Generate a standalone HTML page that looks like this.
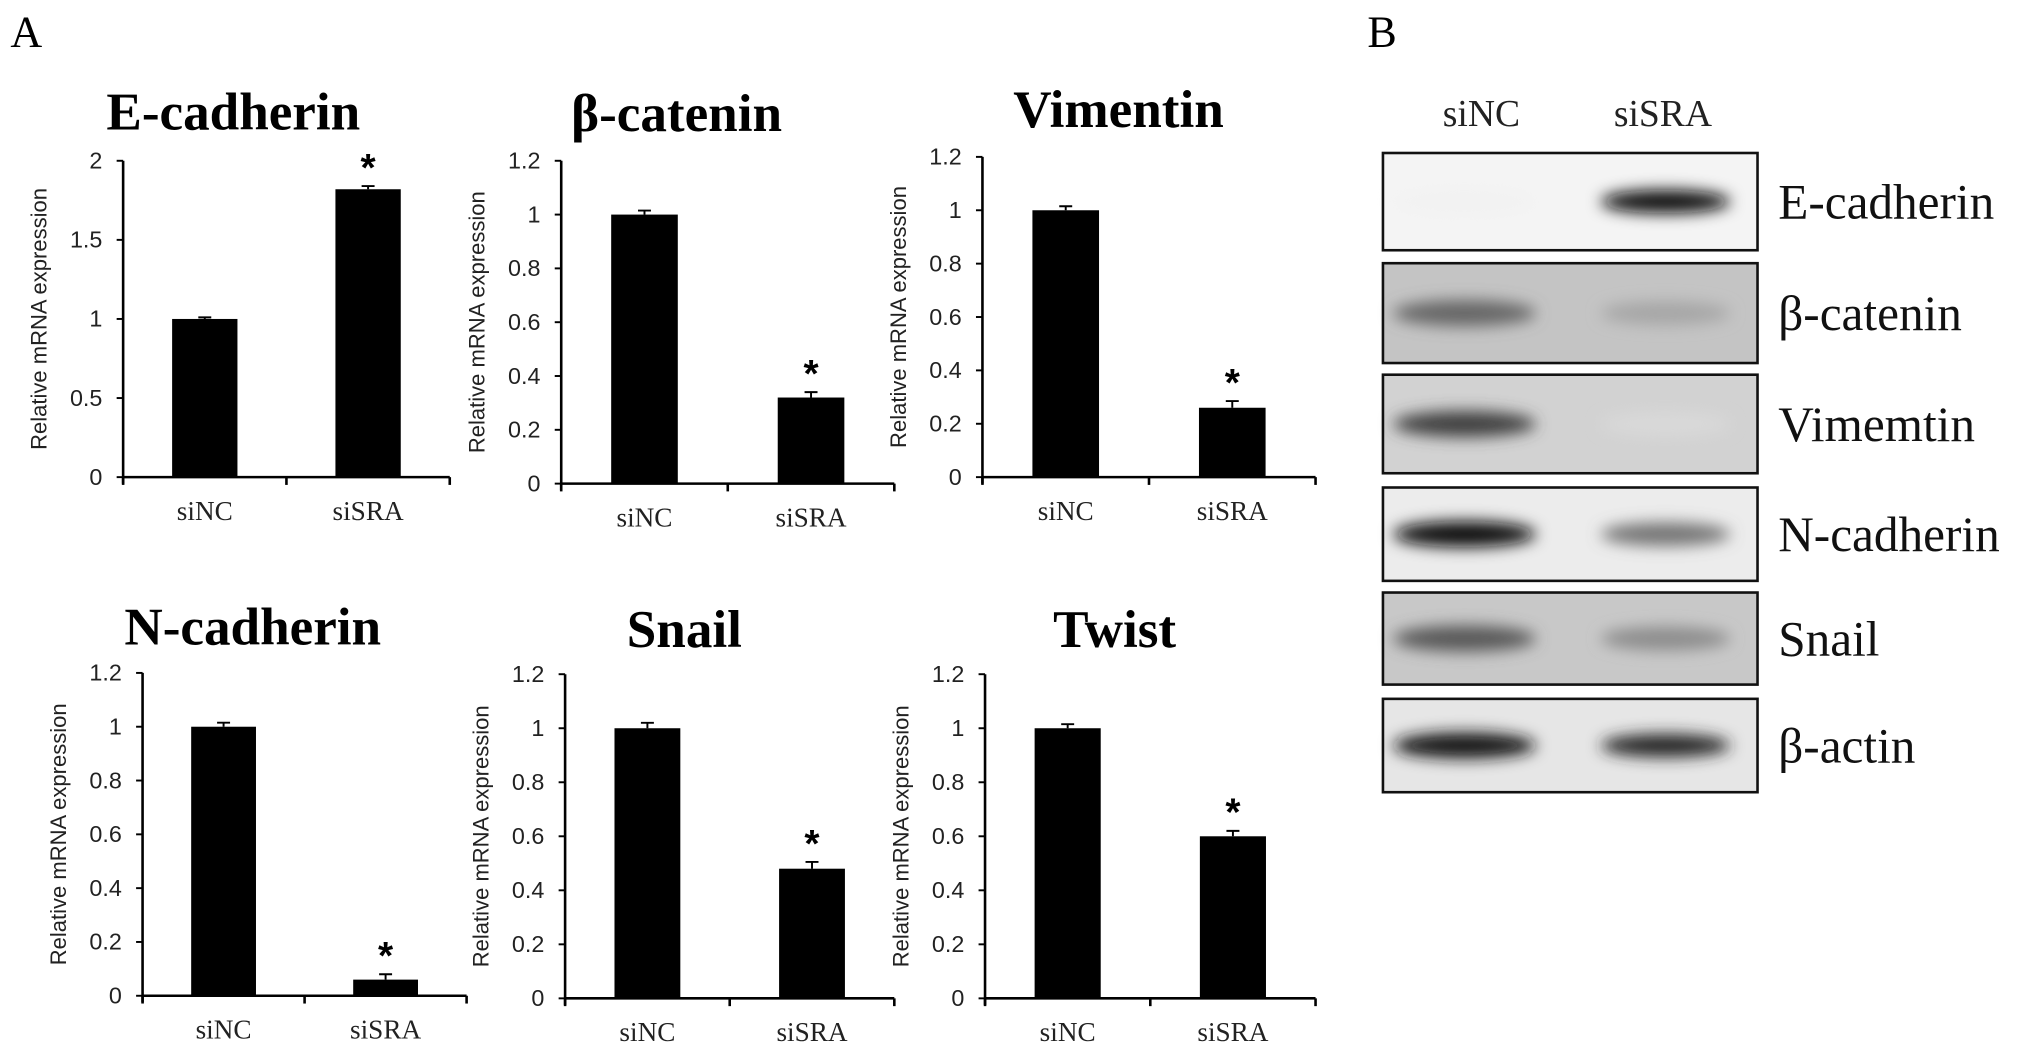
<!DOCTYPE html>
<html><head><meta charset="utf-8"><style>
html,body{margin:0;padding:0;background:#fff;}
svg{display:block;}
</style></head><body>
<svg id="fig" width="2031" height="1058" viewBox="0 0 1567 816" preserveAspectRatio="none" xmlns="http://www.w3.org/2000/svg">
<defs>
<filter id="bl" x="-50%" y="-100%" width="200%" height="300%"><feGaussianBlur stdDeviation="6"/></filter>
</defs>
<text x="8" y="36" font-family="Liberation Serif, serif" font-size="34">A</text>
<text x="1055" y="36" font-family="Liberation Serif, serif" font-size="34">B</text>
<g id="charts"></g>
<g id="blot"></g>
</svg>
<script>
const NS="http://www.w3.org/2000/svg";
const categories=["siNC","siSRA"];
const titles=["E-cadherin","β-catenin","Vimentin","N-cadherin","Snail","Twist"];
const valuesNC=[1,1,1,1,1,1];
const valuesSRA=[1.82,0.32,0.26,0.06,0.48,0.60];
const errNC=[0.01,0.015,0.015,0.015,0.02,0.015];
const errSRA=[0.02,0.02,0.025,0.02,0.025,0.02];
const yMaxes=[2,1.2,1.2,1.2,1.2,1.2];
const tickStep=[0.5,0.2,0.2,0.2,0.2,0.2];
const tickLabelsA=["0","0.5","1","1.5","2"];
const tickLabelsB=["0","0.2","0.4","0.6","0.8","1","1.2"];
const L=[
 {ax:95,y0:368,yt:124,xe:347,ty:100,tc:180},
 {ax:433,y0:373,yt:124,xe:690,ty:101,tc:522},
 {ax:758,y0:368,yt:121,xe:1015,ty:98,tc:863},
 {ax:110,y0:768,yt:519,xe:360,ty:497,tc:195},
 {ax:436,y0:770,yt:520,xe:690,ty:499,tc:528},
 {ax:760,y0:770,yt:520,xe:1015,ty:499,tc:860}
];
function mk(tag,attrs,parent,txt){const e=document.createElementNS(NS,tag);for(const k in attrs)e.setAttribute(k,attrs[k]);if(txt!=null)e.textContent=txt;parent.appendChild(e);return e;}
const root=document.getElementById('charts');
titles.forEach((t,i)=>{
 const c=L[i];
 const g=mk('g',{},root);
 
 
 const y=v=>c.y0-(v/yMaxes[i])*(c.y0-c.yt);
 const w=c.xe-c.ax;
 const x=k=>c.ax+w*(k+0.5)/categories.length;
 const tt=mk('text',{x:c.tc,y:c.ty,'text-anchor':'middle','font-family':'Liberation Serif, serif','font-weight':'bold','font-size':41},g,t);
 
 
 const ya=mk('line',{x1:c.ax,y1:c.yt,x2:c.ax,y2:c.y0+5,stroke:'#000','stroke-width':2},g);
 
 
 const xa=mk('line',{x1:c.ax,y1:c.y0,x2:c.xe,y2:c.y0,stroke:'#000','stroke-width':2},g);
 
 
 [0,1,2].forEach(k=>{const tx=c.ax+w*k/2;mk('line',{x1:tx,y1:c.y0,x2:tx,y2:c.y0+6,stroke:'#000','stroke-width':2},g);});
 const labs=yMaxes[i]===2?tickLabelsA:tickLabelsB;
 labs.forEach((lb,k)=>{
  const v=k*tickStep[i];
  mk('line',{x1:c.ax-5,y1:y(v),x2:c.ax,y2:y(v),stroke:'#000','stroke-width':1.5},g);
  const tl=mk('text',{x:c.ax-16,y:y(v)+6,'text-anchor':'end','font-family':'Liberation Sans, sans-serif','font-size':18,fill:'#222'},g,lb);
  
  
 });
 const yt=mk('text',{x:0,y:0,'text-anchor':'middle','font-family':'Liberation Sans, sans-serif','font-size':17,fill:'#222',transform:`translate(${c.ax-59},${(c.y0+c.yt)/2}) rotate(-90)`},g,'Relative mRNA expression');
 
 
 const vals=[valuesNC[i],valuesSRA[i]],errs=[errNC[i],errSRA[i]];
 categories.forEach((cat,k)=>{
  const bx=x(k),bw=w*0.2;
  const b=mk('rect',{x:bx-bw/2,y:y(vals[k]),width:bw,height:c.y0-y(vals[k]),fill:'#000'},g);
  
  
  const e=mk('path',{d:`M${bx} ${y(vals[k])} V${y(vals[k]+errs[k])} M${bx-5} ${y(vals[k]+errs[k])} H${bx+5}`,stroke:'#000','stroke-width':1.5,fill:'none'},g);
  
  
  const cl=mk('text',{x:bx,y:c.y0+33,'text-anchor':'middle','font-family':'Liberation Serif, serif','font-size':21,fill:'#222'},g,cat);
  
  
  if(k===1){
   const s=mk('text',{x:bx,y:y(vals[k]+errs[k])-4,'text-anchor':'middle','font-family':'Liberation Sans, sans-serif','font-weight':'bold','font-size':30},g,'*');
   
   
  }
 });
});
const blotLabels=["E-cadherin","β-catenin","Vimemtin","N-cadherin","Snail","β-actin"];
const bandNC=[0.05,0.6,0.75,0.95,0.65,0.9];
const bandSRA=[0.95,0.35,0.15,0.55,0.45,0.85];
const bgGray=["#f4f4f4","#c4c4c4","#d2d2d2","#ececec","#c8c8c8","#e6e6e6"];
const rows=[[118,193],[203,280],[289,365],[376,448],[457,528],[539,611]];
const B=document.getElementById('blot');
[["siNC",1143],["siSRA",1283]].forEach(([t,cx])=>{
 const l=mk('text',{x:cx,y:97,'text-anchor':'middle','font-family':'Liberation Serif, serif','font-size':29,fill:'#222'},B,t);
 
 
});
blotLabels.forEach((lb,i)=>{
 const [t,b]=rows[i];
 const g=mk('g',{},B);
 
 
 mk('rect',{x:1067,y:t,width:289,height:b-t,fill:bgGray[i]},g);
 const cy=(t+b)/2;
 const d1=Math.round(255*(1-bandNC[i])),d2=Math.round(255*(1-bandSRA[i]));
 mk('ellipse',{cx:1130,cy:cy,rx:55,ry:10,fill:`rgb(${d1},${d1},${d1})`,filter:'url(#bl)'},g);
 mk('ellipse',{cx:1285,cy:cy,rx:50,ry:9,fill:`rgb(${d2},${d2},${d2})`,filter:'url(#bl)'},g);
 const r=mk('rect',{x:1067,y:t,width:289,height:b-t,fill:'none',stroke:'#111','stroke-width':2},g);
 
 
 const tl=mk('text',{x:1372,y:cy+13,'font-family':'Liberation Serif, serif','font-size':38,fill:'#111'},g,lb);
 
 
});
</script>
</body></html>
